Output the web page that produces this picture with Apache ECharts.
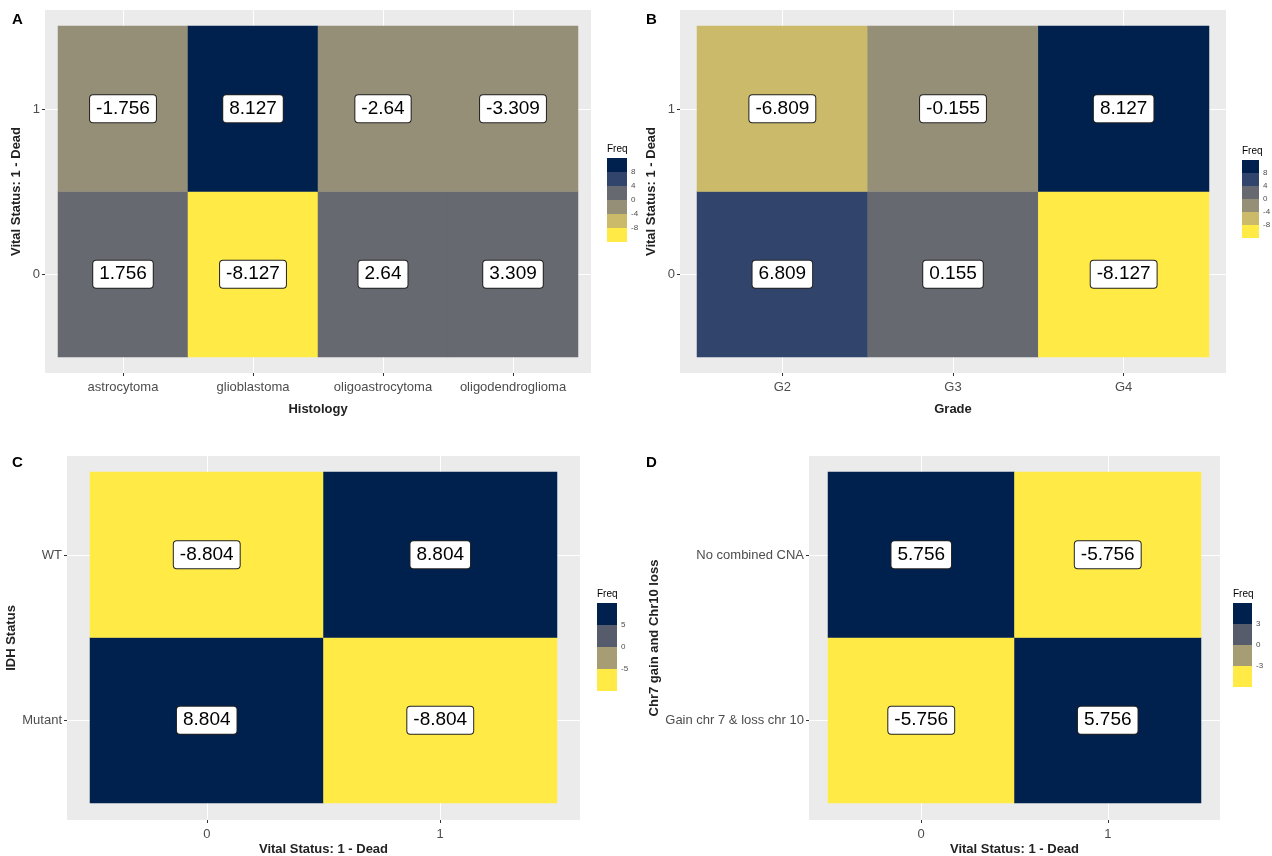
<!DOCTYPE html>
<html>
<head>
<meta charset="utf-8">
<script src="https://cdn.jsdelivr.net/npm/echarts@6/dist/echarts.min.js"></script>
<style>
  html, body { margin: 0; padding: 0; background: #fff; }
  #chart { width: 1272px; height: 856px; }
</style>
</head>
<body>
<div id="chart"></div>
<script>
// data
var histology = ['astrocytoma', 'glioblastoma', 'oligoastrocytoma', 'oligodendroglioma'];
var histAlive = [1.756, -8.127, 2.64, 3.309];   // vital status 0
var histDead = [-1.756, 8.127, -2.64, -3.309];  // vital status 1

var grade = ['G2', 'G3', 'G4'];
var gradeAlive = [6.809, 0.155, -8.127];
var gradeDead = [-6.809, -0.155, 8.127];

var vital = ['0', '1'];
var idh = ['Mutant', 'WT'];
var idhMutant = [8.804, -8.804];   // by vital status 0, 1
var idhWT = [-8.804, 8.804];

var cna = ['Gain chr 7 & loss chr 10', 'No combined CNA'];
var cnaGain = [-5.756, 5.756];
var cnaNone = [5.756, -5.756];

// binned cividis (reversed) legends
var breaks6 = [-12, -8, -4, 0, 4, 8, 12];
var colors6 = ['#FFEA46', '#CBBA69', '#958F78', '#666970', '#31446B', '#00204D'];
var labels6 = ['8', '4', '0', '-4', '-8'];
var breaksC = [-15, -5, 0, 5, 15];
var labelsC = ['5', '0', '-5'];
var breaksD = [-10, -3, 0, 3, 10];
var labelsD = ['3', '0', '-3'];
var colors4 = ['#FFEA46', '#A69D75', '#575C6D', '#00204D'];

function cells(rows) {
  // rows[y][x]
  var out = [];
  rows.forEach(function (r, y) {
    r.forEach(function (v, x) { out.push([x, y, v]); });
  });
  return out;
}
function pieces(br, cols) {
  var p = [];
  for (var i = 0; i < cols.length; i++) p.push({ gte: br[i], lt: br[i + 1], color: cols[i] });
  return p;
}

var grids = [], xAxes = [], yAxes = [], series = [], visualMaps = [], graphics = [];
var tickLabel = { color: '#4D4D4D', fontSize: 13, fontFamily: 'Liberation Sans' };
var axisTitle = { color: '#222', fontSize: 13, fontWeight: 'bold', fontFamily: 'Liberation Sans' };

function panel(c) {
  var gi = grids.length;
  grids.push({ left: c.bg[0], top: c.bg[1], width: c.bg[2], height: c.bg[3], show: true,
    backgroundColor: '#EBEBEB', borderWidth: 0, outerBoundsMode: 'none' });
  grids.push({ left: c.inner[0], top: c.inner[1], width: c.inner[2], height: c.inner[3],
    outerBoundsMode: 'none' });
  var xv = c.xCats.map(function (d, i) { return i + 1; });
  var yv = c.yCats.map(function (d, i) { return i + 1; });
  xAxes.push({
    type: 'value', gridIndex: gi, min: 0.4, max: c.xCats.length + 0.6,
    name: c.xName, nameLocation: 'middle', nameGap: c.xNameGap, nameTextStyle: axisTitle,
    axisLine: { show: false },
    axisTick: { show: true, customValues: xv, length: 3, lineStyle: { color: '#333' } },
    axisLabel: Object.assign({ customValues: xv, margin: 8,
      formatter: function (v) { return c.xCats[Math.round(v) - 1]; } }, tickLabel),
    splitLine: { show: true, lineStyle: { color: '#fff', width: 1 } }
  });
  yAxes.push({
    type: 'value', gridIndex: gi, min: 0.4, max: c.yCats.length + 0.6,
    name: c.yName, nameLocation: 'middle', nameGap: c.yNameGap, nameTextStyle: axisTitle,
    axisLine: { show: false },
    axisTick: { show: true, customValues: yv, length: 3, lineStyle: { color: '#333' } },
    axisLabel: Object.assign({ customValues: yv, margin: 5,
      formatter: function (v) { return c.yCats[Math.round(v) - 1]; } }, tickLabel),
    splitLine: { show: true, lineStyle: { color: '#fff', width: 1 } }
  });
  xAxes.push({ type: 'category', gridIndex: gi + 1, data: c.xCats, show: false });
  yAxes.push({ type: 'category', gridIndex: gi + 1, data: c.yCats, show: false });
  var si = series.length;
  series.push({
    type: 'heatmap', xAxisIndex: gi + 1, yAxisIndex: gi + 1, data: c.data,
    emphasis: { disabled: true },
    label: {
      show: true, fontSize: 19, fontFamily: 'Liberation Sans', color: '#000',
      backgroundColor: '#fff', borderColor: '#222', borderWidth: 1, borderRadius: 3,
      padding: [5, 6, 3, 6],
      formatter: function (p) { return String(p.value[2]); }
    }
  });
  visualMaps.push({
    type: 'piecewise', seriesIndex: si, dimension: 2, orient: 'vertical',
    left: c.leg[0], top: c.leg[1], itemWidth: c.leg[2], itemHeight: c.leg[3], itemGap: 0,
    itemSymbol: 'rect', showLabel: false, selectedMode: false, padding: 0,
    pieces: pieces(c.breaks, c.colors)
  });
  graphics.push({ type: 'text', left: c.leg[0], top: c.leg[1] - 14,
    style: { text: 'Freq', fontSize: 10, fill: '#000', fontFamily: 'Liberation Sans' } });
  c.legLabels.forEach(function (t, i) {
    graphics.push({ type: 'text', x: c.leg[0] + c.leg[2] + 4, y: c.leg[1] + c.leg[3] * (i + 1),
      style: { text: t, fontSize: 8, fill: '#4D4D4D', fontFamily: 'Liberation Sans',
        verticalAlign: 'middle', align: 'left' } });
  });
  graphics.push({ type: 'text', left: c.tag[0], top: c.tag[1],
    style: { text: c.tagText, fontSize: 15, fontWeight: 'bold', fill: '#000', fontFamily: 'Liberation Sans' } });
}

panel({ tagText: 'A', tag: [12, 12],
  bg: [45, 10, 546, 363], inner: [58, 26, 520, 331],
  xCats: histology, yCats: vital, xName: 'Histology', xNameGap: 30,
  yName: 'Vital Status: 1 - Dead', yNameGap: 22,
  data: cells([histAlive, histDead]),
  breaks: breaks6, colors: colors6, legLabels: labels6, leg: [607, 158, 20, 14] });

panel({ tagText: 'B', tag: [646, 12],
  bg: [680, 10, 546, 363], inner: [697, 26, 512, 331],
  xCats: grade, yCats: vital, xName: 'Grade', xNameGap: 30,
  yName: 'Vital Status: 1 - Dead', yNameGap: 22,
  data: cells([gradeAlive, gradeDead]),
  breaks: breaks6, colors: colors6, legLabels: labels6, leg: [1242, 160, 17, 13] });

panel({ tagText: 'C', tag: [12, 455],
  bg: [67, 456, 513, 364], inner: [90, 472, 467, 331],
  xCats: vital, yCats: idh, xName: 'Vital Status: 1 - Dead', xNameGap: 23,
  yName: 'IDH Status', yNameGap: 45,
  data: cells([idhMutant, idhWT]),
  breaks: breaksC, colors: colors4, legLabels: labelsC, leg: [597, 603, 20, 22] });

panel({ tagText: 'D', tag: [646, 455],
  bg: [809, 456, 411, 364], inner: [828, 472, 373, 331],
  xCats: vital, yCats: cna, xName: 'Vital Status: 1 - Dead', xNameGap: 23,
  yName: 'Chr7 gain and Chr10 loss', yNameGap: 143,
  data: cells([cnaGain, cnaNone]),
  breaks: breaksD, colors: colors4, legLabels: labelsD, leg: [1233, 603, 19, 21] });

var chart = echarts.init(document.getElementById('chart'));
chart.setOption({
  animation: false,
  grid: grids, xAxis: xAxes, yAxis: yAxes, series: series,
  visualMap: visualMaps, graphic: graphics
});
</script>
</body>
</html>
